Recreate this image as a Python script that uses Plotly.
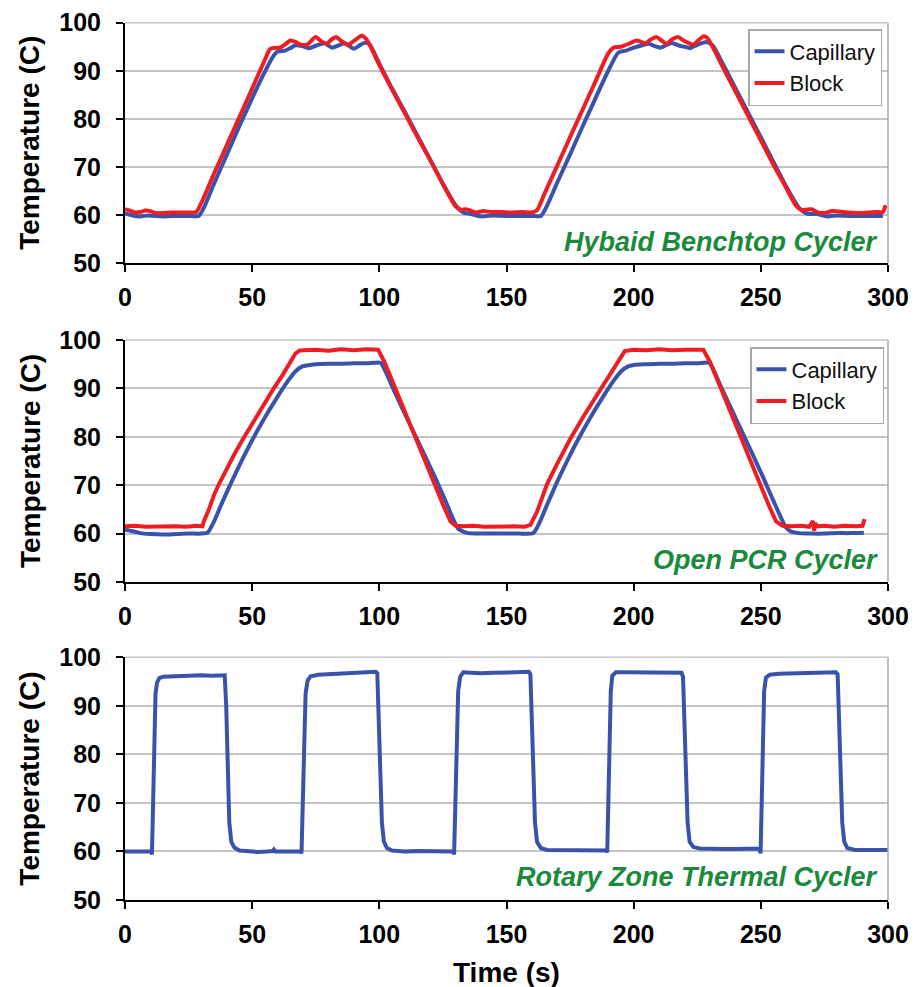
import plotly.graph_objects as go

# ---------------- data ----------------
hyb_cap_t = [0,3,6,9,12,16,20,25,29,31,35,40,45,50,55,58,60,63,65,67,70,72.5,75,78.5,81.5,84,86.5,90,92,94,96,
             100,105,110,115,120,125,130,133,136,140,145,150,155,160,163.5,166,170,175,180,185,190,194,197,199,
             202,204,206,208,210.5,213,215,218,220,222,225,228.5,231,235,240,245,250,255,260,265,268,272,276,280,
             285,290,295,298]
hyb_cap_v = [60.3,59.9,59.7,59.9,59.8,59.7,59.8,59.8,59.8,61.5,66.5,72.5,78.5,84.3,89.8,92.8,94.0,94.2,94.7,95.3,
             95.1,94.7,95.2,95.7,94.8,95.3,95.7,94.6,95.2,95.8,95.6,91.5,86.3,81.5,76.5,71.5,66.5,62.0,60.5,60.2,
             59.7,59.9,59.8,59.8,59.8,59.8,62.0,66.8,72.6,78.5,84.3,90.0,93.8,94.2,94.6,95.1,95.4,95.6,95.2,94.8,
             95.4,95.8,95.2,95.0,94.7,95.4,96.0,95.3,91.5,86.4,81.3,76.2,71.0,65.9,61.5,60.3,60.2,59.7,59.9,59.8,
             59.8,59.8,59.8]

hyb_blk_t = [0,2,4,6,8,10,12,15,18,22,26,28,30,35,40,45,50,55,57,59,61,63,65,67,69,71.5,75,77,79.3,81,83,85,87.7,
             90,93,95,100,105,110,115,120,125,130,132,134,136,138,141,144,148,152,156,160,162,165,170,175,180,185,
             190,192,195,198,201,203,204.5,207,209,211,213,215,217.5,220,223.5,226,227.5,229,232,235,240,245,250,
             255,260,264,266,268,270,272,275,278,281,284,288,292,296,298,299]
hyb_blk_v = [61.2,60.9,60.5,60.6,60.9,60.8,60.4,60.4,60.5,60.5,60.5,60.6,62.5,68.6,74.5,80.4,86.3,92.3,94.5,94.8,
             94.8,95.5,96.3,96.0,95.5,95.4,97.0,96.2,95.6,96.4,97.0,96.2,95.4,96.2,97.3,96.5,91.2,86.1,81.2,76.2,
             71.4,66.4,61.8,61.1,61.2,60.9,60.5,60.8,60.6,60.6,60.5,60.6,60.5,61.0,64.5,70.3,76.2,82.0,87.8,93.6,
             94.8,95.0,95.6,96.3,96.0,95.7,96.6,97.0,96.3,95.6,96.5,97.0,96.2,95.4,96.6,97.2,96.8,94.0,90.8,85.7,
             80.6,75.5,70.4,65.6,61.8,61.0,61.1,61.2,60.6,60.4,60.8,60.7,60.5,60.4,60.5,60.6,60.6,62.0]

opn_cap_t = [0,3,6,10,15,20,25,30,32.5,35,38,42,46,50,55,60,64,67,69.5,72,75,80,85,90,95,98,100.5,102,106,110,114,
             118,122,126,129,131,133,135,140,145,150,155,160.5,163,166,170,174,178,183,188,192,195,198,201,205,210,
             215,220,225,229.7,231,235,239,243,247,251,255,258,260,262,265,270,275,280,285,290.5]
opn_cap_v = [60.8,60.5,60.1,59.9,59.8,59.9,60.0,60.0,60.2,62.5,66.2,70.8,75.2,79.3,84.0,88.3,91.5,93.5,94.5,94.8,
             95.0,95.1,95.1,95.2,95.2,95.3,95.3,94.0,89.3,84.8,80.4,76.0,71.5,66.8,63.0,61.0,60.4,60.1,60.0,60.0,
             60.0,60.0,60.1,62.3,66.0,70.8,75.2,79.3,84.0,88.3,91.5,93.5,94.6,94.9,95.0,95.1,95.1,95.2,95.2,95.3,
             94.2,89.6,85.1,80.6,76.1,71.5,66.7,63.2,61.2,60.4,60.1,60.0,60.0,60.1,60.1,60.2]

opn_blk_t = [0,4,8,12,16,20,24,28,30.4,31,33,35,37,40,43,46,50,54,58,62,65,67,68.5,70,75,80,85,90,95,99.5,102,106,
             110,114,118,122,125,128,130,133,137,141,145,149,153,157,159.4,162,166,170,175,180,185,190,194,196.5,
             200,205,210,215,220,225,227.4,230,234,238,242,246,250,253,256,258.5,262,266,269,270.5,271,271.5,272,
             275,279,283,287,290,290.8]
opn_blk_v = [61.5,61.6,61.4,61.5,61.6,61.5,61.4,61.6,61.5,62.5,65.0,68.0,70.3,73.5,76.4,79.2,82.8,86.2,89.6,92.8,
             95.3,97.2,97.8,97.9,98.0,97.8,98.1,97.9,98.1,98.0,95.5,90.3,85.3,80.2,75.0,70.0,66.0,62.5,61.6,61.5,
             61.6,61.4,61.5,61.6,61.5,61.4,61.8,64.5,70.3,74.5,79.5,84.0,88.2,92.2,95.8,97.7,98.0,97.9,98.1,97.9,
             98.0,98.1,98.0,95.5,90.3,85.3,80.2,75.0,70.0,66.0,62.5,61.6,61.5,61.6,61.4,62.6,60.6,62.2,61.5,61.6,
             61.4,61.6,61.5,61.6,63.0]

rot_cap_t = [0,3,6,9,10.3,10.6,11.0,11.5,12.0,12.6,13.5,15,18,22,26,30,34,38,39.2,39.8,40.4,41,41.8,43,45,48,52,56,
             58,58.5,59,63,67,69,69.4,69.9,70.4,71,71.8,73,76,80,85,90,95,98.5,99.2,99.8,100.4,101,101.8,103,105,
             110,115,120,125,129,129.4,129.9,130.4,131,131.8,133,136,140,145,150,155,158.8,159.4,160,160.6,161.2,
             162,163.5,166,170,175,180,185,189.3,189.6,190,190.5,191,191.6,193,197,202,207,212,216,218.8,219.4,220,
             220.6,221.2,222,223.5,226,230,235,240,245,249.5,249.9,250.3,250.8,251.3,252,253.5,257,262,267,272,276,
             279.5,280.2,280.8,281.4,282,282.8,284,287,292,296,300]
rot_cap_v = [60.0,60.0,59.9,60.0,60.0,59.4,70,85,92.5,94.8,95.7,96.0,96.1,96.2,96.3,96.3,96.2,96.3,96.3,90,75,66,
             62,60.8,60.2,60.0,59.9,60.0,60.1,60.4,60.0,60.0,60.0,60.0,59.6,72,86,92.5,95.2,96.1,96.4,96.5,96.6,
             96.8,96.9,97.0,96.7,88,74,66,62,60.7,60.2,60.0,60.1,60.1,60.0,60.0,59.4,72,86,93,96,96.9,96.8,96.7,
             96.8,96.8,96.9,97.0,96.5,88,74,66,62,60.7,60.3,60.3,60.3,60.3,60.2,60.2,59.8,72,86,93,96.2,96.9,96.9,
             96.9,96.8,96.9,96.9,96.8,96.0,87,74,66,62,60.9,60.6,60.5,60.5,60.5,60.5,60.6,59.6,72,86,93,95.8,96.4,
             96.6,96.7,96.7,96.8,96.8,96.9,96.5,88,74,66,62,60.7,60.3,60.2,60.3,60.3]

series_names = ["Capillary", "Block"]
panel_labels = ["Hybaid Benchtop Cycler", "Open PCR Cycler", "Rotary Zone Thermal Cycler"]
y_ticks = [50, 60, 70, 80, 90, 100]
x_ticks = [0, 50, 100, 150, 200, 250, 300]

# ---------------- styling ----------------
W, H = 919, 987
BLUE = "#3a53aa"
RED = "#ee1d24"
GREEN = "#1b8a3d"
FONT = "Liberation Sans, Arial, sans-serif"

x0px, x1px = 125, 888
panels_px = [(22.7, 263), (340, 582), (657.3, 900)]

def py(v):
    return 1 - v / H

fig = go.Figure()

def add(t, v, name, color, idx, legend, show, shape):
    sfx = "" if idx == 1 else str(idx)
    line = dict(color=color, width=4, shape=shape)
    if shape == "spline":
        line["smoothing"] = 0.6
    fig.add_trace(go.Scatter(x=t, y=v, mode="lines", name=name, line=line,
                             xaxis="x" + sfx, yaxis="y" + sfx,
                             legend=legend, showlegend=show))

add(hyb_cap_t, hyb_cap_v, series_names[0], BLUE, 1, "legend", True, "spline")
add(hyb_blk_t, hyb_blk_v, series_names[1], RED, 1, "legend", True, "spline")
add(opn_cap_t, opn_cap_v, series_names[0], BLUE, 2, "legend2", True, "spline")
add(opn_blk_t, opn_blk_v, series_names[1], RED, 2, "legend2", True, "linear")
add(rot_cap_t, rot_cap_v, series_names[0], BLUE, 3, "legend", False, "linear")

layout = dict(width=W, height=H, margin=dict(l=0, r=0, t=0, b=0, autoexpand=False),
              paper_bgcolor="white", plot_bgcolor="white",
              font=dict(family=FONT, color="black"))

shapes = []
annotations = []
for i, (top, bot) in enumerate(panels_px, start=1):
    sfx = "" if i == 1 else str(i)
    layout["xaxis" + sfx] = dict(
        domain=[x0px / W, x1px / W], anchor="y" + sfx, range=[0, 300], automargin=False,
        tickvals=x_ticks, showgrid=False, zeroline=False,
        showline=True, linecolor="black", linewidth=2,
        ticks="outside", ticklen=7, tickwidth=2, tickcolor="black",
        tickfont=dict(family=FONT, size=25, weight="bold", color="black"),
        ticklabelstandoff=4, fixedrange=True)
    layout["yaxis" + sfx] = dict(
        domain=[py(bot), py(top)], anchor="x" + sfx, range=[50, 100], automargin=False,
        tickvals=y_ticks, showgrid=True, gridcolor="#c4c4c4", gridwidth=1.5,
        zeroline=False, showline=True, linecolor="black", linewidth=2,
        ticks="outside", ticklen=7, tickwidth=2, tickcolor="black",
        tickfont=dict(family=FONT, size=25, weight="bold", color="black"),
        ticklabelstandoff=10, fixedrange=True)
    shapes.append(dict(type="line", xref="x%s domain" % sfx, yref="y%s domain" % sfx,
                       x0=1, x1=1, y0=0, y1=1, line=dict(color="#a8a8a8", width=1.5)))
    shapes.append(dict(type="line", xref="x%s domain" % sfx, yref="y%s domain" % sfx,
                       x0=0, x1=1, y0=1, y1=1, line=dict(color="#c4c4c4", width=1.5)))
    annotations.append(dict(text="Temperature (C)", textangle=-90, xref="paper", yref="paper",
                            x=30 / W, y=py((top + bot) / 2), xanchor="center", yanchor="middle",
                            showarrow=False, font=dict(family=FONT, size=28, weight="bold", color="black")))

green_y = [242, 560, 877]
for lab, gy in zip(panel_labels, green_y):
    annotations.append(dict(text="<i>" + lab + "</i>", xref="paper", yref="paper",
                            x=880 / W, y=py(gy), xanchor="right", yanchor="middle",
                            showarrow=False, font=dict(family=FONT, size=27, weight="bold", color=GREEN)))

annotations.append(dict(text="Time (s)", xref="paper", yref="paper", x=506.5 / W, y=py(972),
                        xanchor="center", yanchor="middle", showarrow=False,
                        font=dict(family=FONT, size=28, weight="bold", color="black")))

leg_common = dict(xanchor="right", yanchor="top", bgcolor="white", bordercolor="#a8a8a8", borderwidth=1.5,
                  font=dict(family=FONT, size=22, color="#111"), itemwidth=30, tracegroupgap=0)
layout["legend"] = dict(x=882 / W, y=py(29), **leg_common)
layout["legend2"] = dict(x=884 / W, y=py(347), **leg_common)
layout["shapes"] = shapes
layout["annotations"] = annotations
fig.update_layout(**layout)

fig.write_html("out.html")
